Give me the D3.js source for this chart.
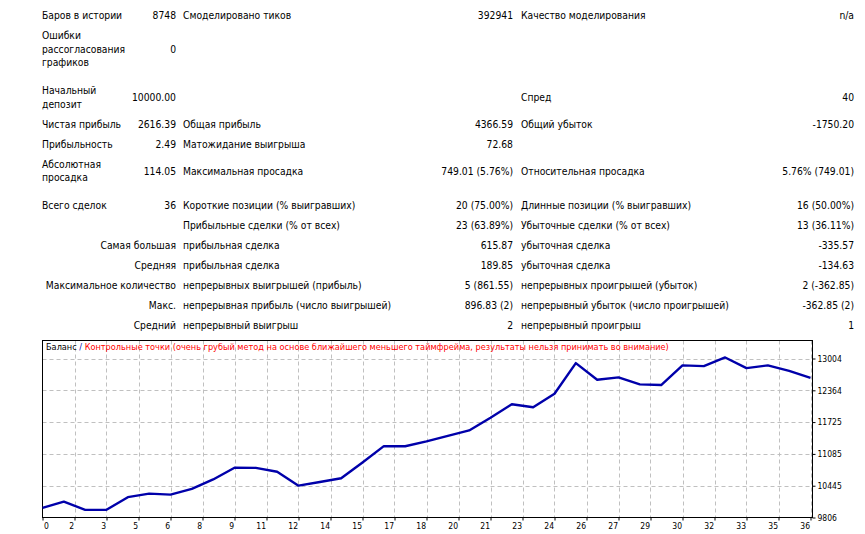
<!DOCTYPE html>
<html>
<head>
<meta charset="utf-8">
<script src="https://cdn.jsdelivr.net/npm/d3@7"></script>
<style>
  body { margin: 0; background: #fff; }
  svg text { font-family: "DejaVu Sans Condensed", "DejaVu Sans", sans-serif; fill: #000; }
  .cell { font-size: 10.25px; }
  .axis-label { font-size: 8.5px; }
  .legend { font-size: 9.1px; }
</style>
</head>
<body>
<div id="report"></div>
<script>
// Report table: [label, value, label, value, label, value], null = spacer row
const rows = [
  ["Баров в истории", "8748", "Смоделировано тиков", "392941", "Качество моделирования", "n/a"],
  ["Ошибки\nрассогласования\nграфиков", "0", "", "", "", ""],
  null,
  ["Начальный\nдепозит", "10000.00", "", "", "Спред", "40"],
  ["Чистая прибыль", "2616.39", "Общая прибыль", "4366.59", "Общий убыток", "-1750.20"],
  ["Прибыльность", "2.49", "Матожидание выигрыша", "72.68", "", ""],
  ["Абсолютная\nпросадка", "114.05", "Максимальная просадка", "749.01 (5.76%)", "Относительная просадка", "5.76% (749.01)"],
  null,
  ["Всего сделок", "36", "Короткие позиции (% выигравших)", "20 (75.00%)", "Длинные позиции (% выигравших)", "16 (50.00%)"],
  ["", "", "Прибыльные сделки (% от всех)", "23 (63.89%)", "Убыточные сделки (% от всех)", "13 (36.11%)"],
  ["", "Самая большая", "прибыльная сделка", "615.87", "убыточная сделка", "-335.57"],
  ["", "Средняя", "прибыльная сделка", "189.85", "убыточная сделка", "-134.63"],
  ["", "Максимальное количество", "непрерывных выигрышей (прибыль)", "5 (861.55)", "непрерывных проигрышей (убыток)", "2 (-362.85)"],
  ["", "Макс.", "непрерывная прибыль (число выигрышей)", "896.83 (2)", "непрерывный убыток (число проигрышей)", "-362.85 (2)"],
  ["", "Средний", "непрерывный выигрыш", "2", "непрерывный проигрыш", "1"]
];

// Balance after each trade
const trades = [0, 1, 2, 3, 4, 5, 6, 7, 8, 9, 10, 11, 12, 13, 14, 15, 16, 17, 18,
  19, 20, 21, 22, 23, 24, 25, 26, 27, 28, 29, 30, 31, 32, 33, 34, 35, 36];
const balance = [10000, 10126, 9960, 9962, 10215, 10287, 10267, 10381, 10571, 10808,
  10805, 10727, 10447, 10521, 10595, 10912, 11242, 11240, 11336, 11448, 11557, 11813,
  12083, 12023, 12295, 12911, 12576, 12624, 12484, 12470, 12865, 12850, 13025, 12810,
  12865, 12754, 12616];

// Axis ticks
const yTicks = [9806, 10445, 11085, 11725, 12364, 13004];
const xTicks = [0, 1.5, 3, 4.5, 6, 7.5, 9, 10.5, 12, 13.5, 15, 16.5, 18, 19.5, 21,
  22.5, 24, 25.5, 27, 28.5, 30, 31.5, 33, 34.5, 36];
const xTickLabels = ["0", "2", "3", "5", "6", "8", "9", "11", "12", "14", "15", "17",
  "18", "20", "21", "23", "24", "26", "27", "29", "30", "32", "33", "35", "36"];

const legendBalance = "Баланс";
const legendNote = "Контрольные точки (очень грубый метод на основе ближайшего меньшего таймфрейма, результаты нельзя принимать во внимание)";

// Sizes
const WIDTH = 865;
const HEIGHT = 534;
const LINE_H = 13.5;
const SPACER_H = 8;
// Column anchors: label start / value end
const COLS = [
  { x: 42, anchor: "start" },
  { x: 176, anchor: "end" },
  { x: 183, anchor: "start" },
  { x: 513, anchor: "end" },
  { x: 521, anchor: "start" },
  { x: 854, anchor: "end" }
];

// Chart frame
const CH = { left: 42.5, right: 812.5, top: 340.5, bottom: 517.5 };

var svg = d3
  .select("#report")
  .append("svg")
  .attr("width", WIDTH)
  .attr("height", HEIGHT);

// Table
let rowTop = 5.7;
rows.forEach(function (row) {
  if (row === null) {
    rowTop += SPACER_H;
    return;
  }
  const nLines = d3.max(row, (c) => c.split("\n").length);
  const h = Math.max(20, nLines * LINE_H + 6.5);
  const cy = rowTop + h / 2;

  row.forEach(function (cell, i) {
    if (!cell) return;
    const lines = cell.split("\n");
    const t = svg
      .append("text")
      .attr("class", "cell")
      .attr("x", COLS[i].x)
      .attr("text-anchor", COLS[i].anchor);
    lines.forEach(function (ln, j) {
      t.append("tspan")
        .attr("x", COLS[i].x)
        .attr("y", cy + (j - (lines.length - 1) / 2) * LINE_H)
        .attr("dy", "0.35em")
        .text(ln);
    });
  });
  rowTop += h;
});

// Scales
const xScale = d3.scaleLinear().domain([0, 36]).range([CH.left, 810.5]);
const yScale = d3.scaleLinear().domain([9806, 13004]).range([CH.bottom, 358.5]);

// Grid
svg
  .append("g")
  .selectAll("line")
  .data(yTicks.slice(1))
  .enter()
  .append("line")
  .attr("x1", CH.left)
  .attr("x2", CH.right)
  .attr("y1", (d) => Math.round(yScale(d)) + 0.5)
  .attr("y2", (d) => Math.round(yScale(d)) + 0.5)
  .attr("stroke", "#c0c0c0")
  .attr("stroke-dasharray", "4,3");

svg
  .append("g")
  .selectAll("line")
  .data(xTicks.slice(1))
  .enter()
  .append("line")
  .attr("x1", (d) => Math.round(xScale(d)) + 0.5)
  .attr("x2", (d) => Math.round(xScale(d)) + 0.5)
  .attr("y1", CH.top)
  .attr("y2", CH.bottom)
  .attr("stroke", "#c0c0c0")
  .attr("stroke-dasharray", "4,3");

// Frame
svg
  .append("rect")
  .attr("x", CH.left)
  .attr("y", CH.top)
  .attr("width", CH.right - CH.left)
  .attr("height", CH.bottom - CH.top)
  .attr("fill", "none")
  .attr("stroke", "#000");

// Right axis
const yAxis = d3.axisRight(yScale).tickValues(yTicks).tickSize(3).tickFormat(d3.format("d"));
svg
  .append("g")
  .attr("transform", "translate(" + CH.right + ",0)")
  .call(yAxis)
  .call((g) => g.select(".domain").remove())
  .call((g) =>
    g.selectAll("text").attr("class", "axis-label").attr("x", 5).attr("font-family", null).attr("font-size", null)
  );

// Bottom axis
const xAxis = d3
  .axisBottom(xScale)
  .tickValues(xTicks)
  .tickSize(3)
  .tickFormat((d, i) => xTickLabels[i]);
svg
  .append("g")
  .attr("transform", "translate(0," + CH.bottom + ")")
  .call(xAxis)
  .call((g) => g.select(".domain").remove())
  .call((g) =>
    g
      .selectAll("text")
      .attr("class", "axis-label")
      .attr("font-family", null)
      .attr("font-size", null)
      .attr("y", 5)
      .attr("text-anchor", (d) => (d === 0 ? "start" : "end"))
      .attr("x", (d) => (d === 0 ? 1 : -1))
  );
svg.selectAll(".tick line").attr("stroke", "#000");

// Balance line
const line = d3
  .line()
  .x((d, i) => xScale(trades[i]))
  .y((d) => yScale(d));

svg
  .append("path")
  .datum(balance)
  .attr("d", line)
  .attr("fill", "none")
  .attr("stroke", "#0000aa")
  .attr("stroke-width", 2.4)
  .attr("stroke-linejoin", "round");

// Legend
const legend = svg
  .append("text")
  .attr("class", "legend")
  .attr("x", 46)
  .attr("y", 347)
  .attr("dy", "0.35em");
legend.append("tspan").text(legendBalance);
legend.append("tspan").attr("fill", "#0000aa").text(" / ");
legend.append("tspan").style("fill", "#ff0000").text(legendNote);
</script>
</body>
</html>
